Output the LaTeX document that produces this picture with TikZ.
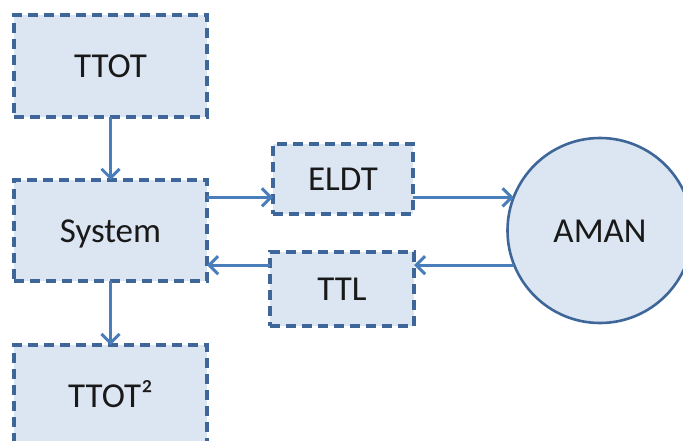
\documentclass[tikz,border=0pt]{standalone}
\usepackage{fontspec}
\setmainfont{Carlito}
\usetikzlibrary{arrows.meta}
\definecolor{boxfill}{HTML}{DCE6F2}
\definecolor{boxline}{HTML}{3E6699}
\definecolor{linkcol}{HTML}{4A7EBB}
\tikzset{
  labeltext/.style={font=\fontsize{35}{40}\selectfont, text=black!90,
    text height=23pt, text depth=0pt},
  stepbox/.style={draw=boxline, fill=boxfill, line width=3.2pt,
    dash pattern=on 10pt off 6pt, rectangle, inner sep=0pt, outer sep=0pt,
    labeltext},
  hubnode/.style={draw=boxline, fill=boxfill, line width=2.6pt, circle,
    inner sep=0pt, outer sep=0pt, minimum size=185pt, labeltext},
  link/.style={draw=linkcol, line width=3pt,
    -{Straight Barb[length=9pt,width=18pt]}},
}
\begin{document}
\begin{tikzpicture}[x=1pt,y=-1pt]
  \clip (0,0) rectangle (683,441);
  \fill[white] (0,0) rectangle (683,441);

  \node[stepbox, minimum width=193pt, minimum height=102pt] (ttot) at (110.5,66) {TTOT};
  \node[stepbox, minimum width=193pt, minimum height=101pt] (sys) at (110.5,230.5) {System};
  \node[stepbox, minimum width=193pt, minimum height=102pt] (ttot2) at (110.5,396) {TTOT²};
  \node[stepbox, minimum width=140pt, minimum height=70pt] (eldt) at (343,179) {ELDT};
  \node[stepbox, minimum width=144pt, minimum height=74pt] (ttl) at (342,289) {TTL};
  \node[hubnode] (aman) at (600,230.5) {AMAN};

  % vertical flow
  \draw[link] (ttot.south) -- (sys.north);
  \draw[link] (sys.south) -- (ttot2.north);

  % upper row: System -> ELDT -> AMAN
  \draw[link] (sys.east |- aman.159.4) -- (eldt.west |- aman.159.4);
  \draw[link] (eldt.east |- aman.159.4) -- (aman.159.4);

  % lower row: AMAN -> TTL -> System
  \draw[link] (aman.202.6) -- (ttl.east |- aman.202.6);
  \draw[link] (ttl.west |- aman.202.6) -- (sys.east |- aman.202.6);
\end{tikzpicture}
\end{document}
